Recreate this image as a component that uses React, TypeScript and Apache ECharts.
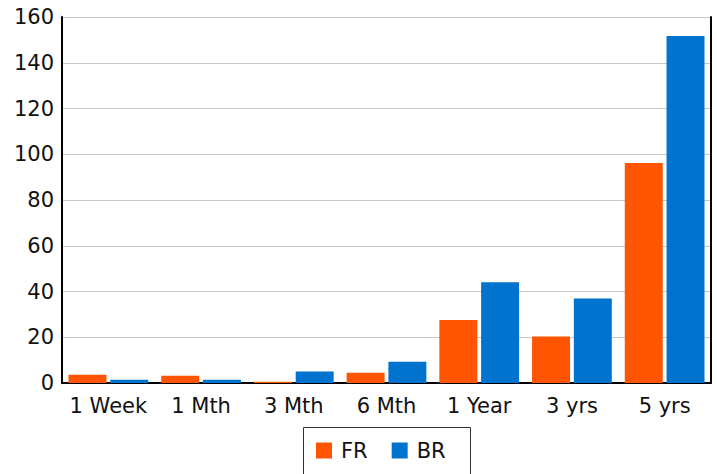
import React, { useEffect, useRef } from "react";
import * as echarts from "echarts";

const categories = ["1 Week", "1 Mth", "3 Mth", "6 Mth", "1 Year", "3 yrs", "5 yrs"];
const frValues = [3.6, 3.2, 0.6, 4.5, 27.5, 20.3, 96.2];
const brValues = [1.4, 1.4, 5.0, 9.3, 44.0, 36.9, 151.7];
const yTicks = { min: 0, max: 160, interval: 20 };

export default function App() {
  const ref = useRef<HTMLDivElement>(null);
  useEffect(() => {
    if (!ref.current) return;
    const chart = echarts.init(ref.current, undefined, { renderer: "svg" });
    const font = "DejaVu Sans";
    chart.setOption({
      animation: false,
      textStyle: { fontFamily: font },
      grid: { left: 62, right: 6, top: 17, bottom: 91 },
      legend: {
        data: ["FR", "BR"],
        left: 316,
        top: 440,
        itemWidth: 16,
        itemHeight: 16,
        itemGap: 24,
        icon: "rect",
        padding: 0,
        textStyle: { fontFamily: font, fontSize: 21, color: "#111", padding: [0, 0, 0, 4] },
      },
      graphic: [
        {
          type: "rect",
          shape: { x: 303.5, y: 427.5, width: 167, height: 60 },
          style: { fill: "none", stroke: "#333", lineWidth: 1 },
          silent: true,
        },
      ],
      xAxis: {
        type: "category",
        data: categories,
        axisLine: { lineStyle: { color: "#000", width: 2 } },
        axisTick: { show: false },
        axisLabel: { fontFamily: font, fontSize: 21, color: "#111", margin: 12, interval: 0 },
      },
      yAxis: [
        {
          type: "value",
          min: yTicks.min,
          max: yTicks.max,
          interval: yTicks.interval,
          axisLine: { show: true, lineStyle: { color: "#000", width: 2 } },
          axisTick: { show: false },
          axisLabel: { fontFamily: font, fontSize: 21, color: "#111", margin: 8 },
          splitLine: { lineStyle: { color: "#c8c8c8", width: 1 } },
        },
        {
          type: "value",
          position: "right",
          min: yTicks.min,
          max: yTicks.max,
          interval: yTicks.interval,
          axisLine: { show: true, lineStyle: { color: "#000", width: 2 } },
          axisTick: { show: false },
          axisLabel: { show: false },
          splitLine: { show: false },
        },
      ],
      series: [
        {
          name: "FR",
          type: "bar",
          data: frValues,
          itemStyle: { color: "#FF5500" },
          barGap: "10%",
          barCategoryGap: "14%",
        },
        {
          name: "BR",
          type: "bar",
          data: brValues,
          itemStyle: { color: "#0073CF" },
          barGap: "10%",
          barCategoryGap: "14%",
        },
      ],
    });
    return () => chart.dispose();
  }, []);
  return <div ref={ref} style={{ width: 717, height: 474, position: "absolute", left: 0, top: 0 }} />;
}
